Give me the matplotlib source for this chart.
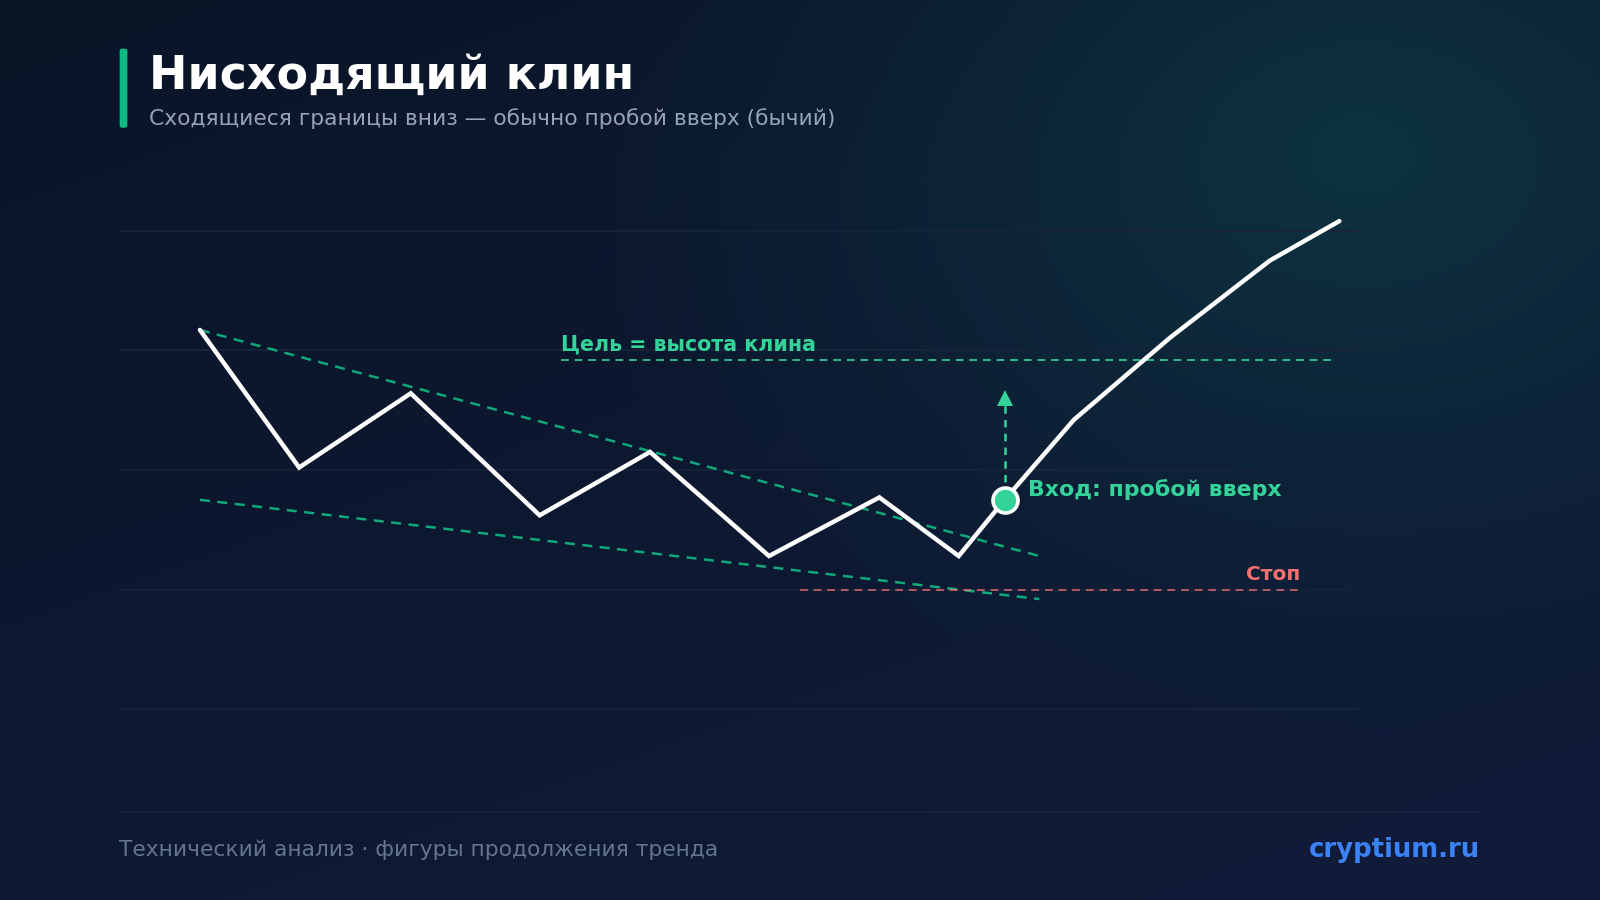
import numpy as np
import matplotlib
matplotlib.use('Agg')
import matplotlib.pyplot as plt
from matplotlib.patches import FancyBboxPatch

plt.rcParams['font.family'] = ['DejaVu Sans']

# данные графика (время 0..100, цена)
t_price = [6.5, 14.5, 23.5, 33.9, 42.8, 52.4, 61.3, 67.7, 71.4, 77.0, 84.8, 92.8, 98.4]
price = [111.7, 100.2, 106.4, 96.2, 101.5, 92.8, 97.7, 92.8, 97.5, 104.2, 111.1, 117.5, 120.8]

upper_t = [6.5, 74.2]
upper_p = [111.7, 92.8]
lower_t = [6.5, 74.2]
lower_p = [97.5, 89.2]

target_t = [35.6, 98.2]
target_p = 109.2
stop_t = [54.9, 95.1]
stop_p = 90.0

entry_t = 71.4
entry_p = 97.5
arrow_top = 106.0

grid_levels = [80, 90, 100, 110, 120]

title = 'Нисходящий клин'
subtitle = 'Сходящиеся границы вниз — обычно пробой вверх (бычий)'
target_label = 'Цель = высота клина'
entry_label = 'Вход: пробой вверх'
stop_label = 'Стоп'
footer_left = 'Технический анализ · фигуры продолжения тренда'
footer_right = 'cryptium.ru'

GREEN = '#34d399'
GREEN_D = '#10b981'
RED = '#f87171'

fig = plt.figure(figsize=(16, 9), dpi=100)

# фон: диагональный градиент + бирюзовое свечение справа сверху
bg = fig.add_axes([0, 0, 1, 1])
bg.set_axis_off()
H, W = 450, 800
yy, xx = np.mgrid[0:H, 0:W]
u = xx / W
v = yy / H
c1 = np.array([0x0a, 0x15, 0x28]) / 255
c2 = np.array([0x10, 0x1c, 0x3a]) / 255
k = np.clip((u * 0.5 + v * 0.8) / 1.3, 0, 1)[..., None]
img = c1 * (1 - k) + c2 * k
glow = np.array([0x0e, 0x33, 0x40]) / 255
d = np.sqrt(((u - 0.85) / 0.5) ** 2 + ((v - 0.17) / 0.65) ** 2)
g = np.clip(1 - d, 0, 1)[..., None] ** 1.2
img = img * (1 - g) + glow * g
bg.imshow(img, extent=[0, 1, 0, 1], aspect='auto', origin='upper')
bg.set_xlim(0, 1)
bg.set_ylim(0, 1)

# акцентная полоска у заголовка
bar = FancyBboxPatch((0.0748, 0.858), 0.0048, 0.088, boxstyle='round,pad=0,rounding_size=0.0022',
                     transform=fig.transFigure, facecolor=GREEN_D, edgecolor='none')
fig.patches.append(bar)

fig.text(0.093, 0.915, title, color='white', fontsize=33, fontweight='bold', va='center', ha='left')
fig.text(0.093, 0.868, subtitle, color='#94a3b8', fontsize=15.7, va='center', ha='left')

# основной график
ax = fig.add_axes([0.0746, 0.1456, 0.7749, 0.6646])
ax.set_facecolor('none')
ax.set_xlim(0, 100)
ax.set_ylim(75, 125)
for s in ax.spines.values():
    s.set_visible(False)
ax.set_xticks([])
ax.set_yticks(grid_levels)
ax.set_yticklabels([])
ax.tick_params(left=False)
ax.grid(axis='y', color='#18243a', linewidth=1.2)
ax.set_axisbelow(True)

ax.plot(upper_t, upper_p, color=GREEN_D, lw=1.8, ls=(0, (4, 3)), alpha=0.9)
ax.plot(lower_t, lower_p, color=GREEN_D, lw=1.8, ls=(0, (4, 3)), alpha=0.9)

ax.plot(target_t, [target_p, target_p], color=GREEN, lw=1.4, ls=(0, (4, 3)), alpha=0.85)
ax.text(target_t[0], target_p + 0.45, target_label, color=GREEN, fontsize=14.8, fontweight='bold',
        ha='left', va='bottom')

ax.plot(stop_t, [stop_p, stop_p], color=RED, lw=1.4, ls=(0, (4, 3)), alpha=0.7)
ax.text(stop_t[1] + 0.15, stop_p + 0.5, stop_label, color=RED, fontsize=14.5, fontweight='bold',
        ha='right', va='bottom')

ax.plot(t_price, price, color='white', lw=3.2, solid_joinstyle='miter', solid_capstyle='round', zorder=4)

ax.plot([entry_t, entry_t], [entry_p + 1.5, arrow_top - 0.5], color=GREEN, lw=1.8, ls=(0, (3, 2.5)), zorder=3)
ax.plot([entry_t], [arrow_top], marker='^', color=GREEN, markersize=11, markeredgewidth=0, zorder=3)

ax.plot([entry_t], [entry_p], marker='o', markersize=18, markerfacecolor=GREEN,
        markeredgecolor='white', markeredgewidth=2.6, zorder=5)
ax.text(entry_t + 1.9, entry_p + 0.9, entry_label, color=GREEN, fontsize=15.8, fontweight='bold',
        ha='left', va='center', zorder=5)

# подвал
fig.add_artist(plt.Line2D([0.0746, 0.9247], [0.0975, 0.0975], transform=fig.transFigure,
                          color='#18243a', lw=1.2))
fig.text(0.0746, 0.0555, footer_left, color='#64748b', fontsize=15.7, va='center', ha='left')
fig.text(0.9252, 0.0555, footer_right, color='#3b82f6', fontsize=18.7, fontweight='bold',
         va='center', ha='right')

fig.savefig('out.png', dpi=100)
